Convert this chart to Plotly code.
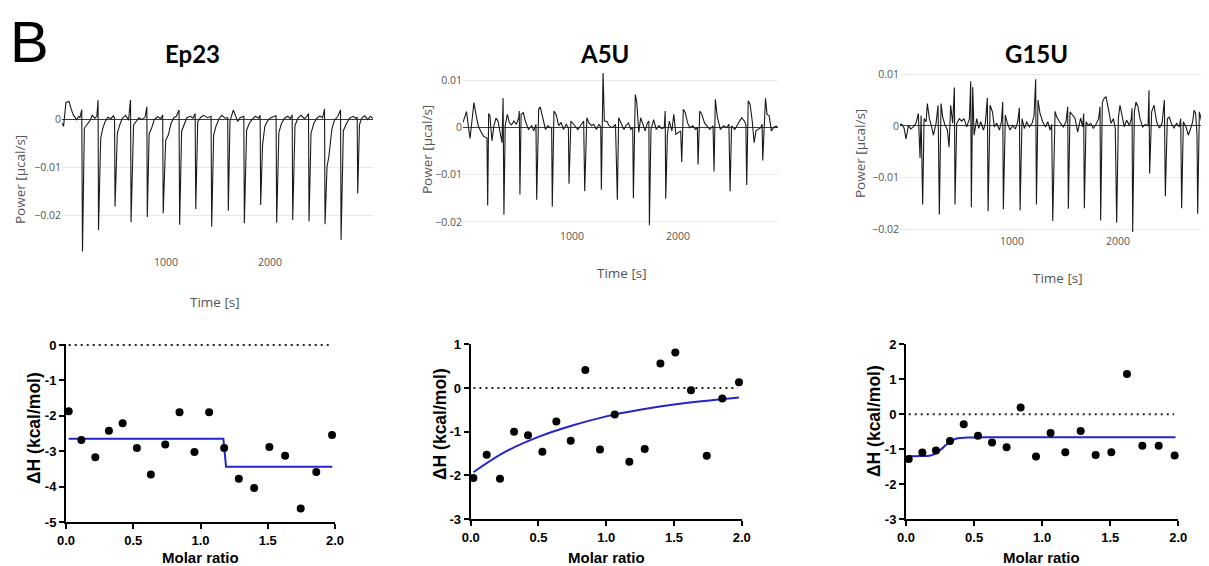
import plotly.graph_objects as go

# the page body adds an 8px margin, so the figure is sized to fill the rest of the window
OFF = 8
W, H = 1209 - OFF, 566 - OFF

# ---------------- Thermogram data (time [s], power [µcal/s]) ----------------
EP23_T = [0, 15, 38, 67, 90, 109, 141, 160, 173, 190, 197, 215, 237, 269, 290, 315, 335, 347, 351, 372, 392, 415, 440, 470, 495, 505, 510, 532, 555, 580, 612, 640, 659, 664, 688, 712, 740, 770, 800, 816, 820, 838, 861, 887, 920, 950, 968, 973, 997, 1022, 1048, 1075, 1100, 1125, 1131, 1150, 1176, 1200, 1235, 1260, 1280, 1286, 1305, 1330, 1360, 1400, 1433, 1439, 1458, 1480, 1510, 1535, 1570, 1593, 1599, 1615, 1647, 1668, 1690, 1712, 1740, 1748, 1753, 1775, 1800, 1830, 1860, 1890, 1905, 1910, 1928, 1950, 1975, 2000, 2030, 2058, 2064, 2085, 2110, 2140, 2170, 2195, 2213, 2218, 2240, 2270, 2300, 2330, 2355, 2370, 2375, 2394, 2420, 2450, 2480, 2505, 2524, 2529, 2548, 2566, 2595, 2620, 2650, 2678, 2683, 2705, 2735, 2765, 2800, 2825, 2838, 2843, 2860, 2880, 2910, 2940, 2965, 2990]
EP23_P = [-0.0008, -0.0015, 0.0035, 0.0037, 0.002, 0.0009, -0.0001, 0.0006, 0.0003, 0.002, -0.0276, -0.0019, -0.0012, -0.0003, 0.0008, 0.0002, 0.0006, 0.004, -0.0231, -0.004, -0.0019, -0.0005, 0.0004, 0.0001, 0.0007, 0.0002, -0.0182, -0.0029, -0.0012, 0.0002, 0.0008, -0.0002, 0.0042, -0.0215, -0.0012, -0.0005, 0.0003, -0.0001, 0.0005, 0.0026, -0.0204, -0.003, -0.0019, -0.0001, 0.0005, 0.0001, 0.0009, -0.0196, -0.0044, -0.0033, -0.0009, 0.0003, 0.0006, 0.0019, -0.022, -0.0025, -0.0009, 0.0003, 0.0006, 0.0002, 0.0012, -0.0187, -0.0005, 0.0003, 0.0008, 0.0003, 0.0006, -0.0224, -0.0033, -0.0015, 0.0001, 0.0008, 0.0002, 0.0003, -0.0191, -0.0004, 0.0019, 0.0008, -0.0005, 0.0003, 0.0005, 0.0006, -0.0217, -0.0023, -0.0009, 0.0, 0.0006, 0.0002, 0.0008, -0.0179, -0.0054, -0.0015, -0.0004, 0.0002, 0.0005, 0.0007, -0.0216, -0.0028, -0.0009, 0.0002, 0.0006, 0.0001, 0.0009, -0.021, -0.0013, 0.0003, 0.0008, 0.0001, 0.0006, 0.0012, -0.0213, -0.003, -0.0009, 0.0002, 0.0007, 0.0003, 0.0021, -0.0219, -0.0099, -0.0077, -0.002, -0.0002, 0.0005, 0.0019, -0.0252, -0.0024, -0.0009, 0.0002, 0.0006, 0.0002, 0.0004, -0.0155, -0.0012, 0.0002, 0.0007, -0.0001, 0.0006, 0.0001]

A5U_T = [-28, 5, 22, 38, 53, 75, 94, 116, 138, 164, 186, 198, 205, 214, 226, 245, 264, 283, 302, 321, 340, 350, 358, 370, 390, 410, 430, 452, 475, 497, 503, 509, 520, 541, 560, 590, 620, 640, 660, 667, 686, 700, 725, 750, 772, 795, 808, 814, 830, 850, 875, 897, 920, 945, 966, 972, 990, 1015, 1040, 1055, 1080, 1110, 1120, 1140, 1160, 1185, 1205, 1230, 1255, 1271, 1277, 1293, 1305, 1330, 1350, 1380, 1410, 1428, 1440, 1465, 1490, 1510, 1532, 1555, 1573, 1579, 1597, 1610, 1630, 1648, 1665, 1690, 1712, 1725, 1730, 1745, 1770, 1795, 1820, 1845, 1870, 1879, 1884, 1900, 1918, 1942, 1960, 1980, 2025, 2035, 2050, 2068, 2090, 2112, 2140, 2165, 2182, 2189, 2205, 2225, 2250, 2275, 2300, 2330, 2340, 2352, 2372, 2400, 2430, 2460, 2480, 2491, 2505, 2535, 2565, 2600, 2625, 2640, 2648, 2662, 2680, 2700, 2718, 2735, 2780, 2793, 2799, 2815, 2825, 2840, 2860, 2880, 2905, 2925, 2943]
A5U_P = [0.0011, 0.0034, 0.0004, -0.0023, 0.0007, 0.0053, 0.0028, 0.0004, -0.0007, -0.0018, -0.0021, -0.0022, -0.0165, 0.003, 0.0025, -0.0028, 0.0004, 0.002, 0.0014, -0.0007, -0.0032, 0.0063, -0.0185, 0.0004, 0.0028, 0.001, 0.0006, 0.0014, 0.0007, 0.0021, 0.0035, -0.0142, 0.0028, 0.0032, 0.0014, -0.0004, 0.0004, -0.0007, 0.0007, -0.0153, 0.0039, 0.0044, 0.0021, -0.0004, 0.0004, 0.0, 0.0, -0.0168, 0.0035, 0.0028, 0.0004, 0.0011, -0.0004, 0.0007, 0.0, -0.0119, 0.0014, 0.0007, 0.0001, -0.0004, 0.0004, 0.0014, -0.0135, 0.0021, 0.001, 0.0004, 0.0007, -0.0004, 0.0007, 0.0001, -0.0132, 0.0116, 0.0014, 0.0013, 0.0004, 0.0, 0.0007, -0.0153, 0.0021, 0.001, -0.0004, 0.0005, 0.001, -0.0004, 0.0, -0.015, 0.007, 0.0056, -0.001, 0.0021, 0.001, -0.0007, 0.001, 0.0014, -0.0207, -0.0004, 0.0017, -0.0004, 0.0004, -0.0002, 0.0, 0.0035, -0.0151, -0.0014, 0.0014, -0.0007, 0.0028, -0.0014, -0.0007, -0.0073, 0.0039, 0.0032, 0.001, 0.0, 0.0004, -0.0004, 0.0, -0.0078, 0.0035, 0.0028, 0.001, 0.0004, -0.0004, 0.0004, -0.0093, 0.006, 0.0021, -0.0004, 0.0004, 0.0, 0.0007, -0.0135, 0.0004, -0.0004, 0.0007, 0.0021, 0.0014, 0.0007, -0.0122, 0.0057, 0.0049, 0.0014, -0.0032, -0.0007, 0.0, 0.0007, -0.007, 0.0021, 0.0062, 0.0028, 0.0025, -0.0007, 0.0001, 0.0003, 0.0]

G15U_T = [-57, -40, -19, 0, 22, 44, 69, 94, 116, 132, 142, 157, 170, 189, 201, 220, 242, 258, 283, 302, 314, 330, 346, 368, 390, 406, 421, 440, 456, 462, 478, 503, 525, 547, 572, 598, 610, 616, 629, 642, 667, 686, 704, 730, 748, 767, 774, 793, 815, 833, 855, 881, 900, 912, 918, 937, 956, 981, 1006, 1032, 1054, 1069, 1076, 1094, 1116, 1138, 1164, 1189, 1208, 1223, 1230, 1245, 1264, 1289, 1315, 1337, 1359, 1374, 1384, 1406, 1422, 1447, 1484, 1509, 1525, 1531, 1547, 1572, 1594, 1619, 1647, 1666, 1676, 1682, 1698, 1720, 1742, 1767, 1792, 1817, 1830, 1836, 1852, 1871, 1886, 1908, 1934, 1956, 1974, 1987, 2003, 2018, 2040, 2059, 2081, 2107, 2125, 2132, 2138, 2154, 2169, 2188, 2207, 2232, 2257, 2283, 2292, 2298, 2317, 2339, 2364, 2390, 2415, 2437, 2446, 2465, 2484, 2506, 2528, 2553, 2578, 2591, 2600, 2616, 2641, 2663, 2685, 2704, 2717, 2732, 2745, 2751, 2767, 2789, 2811, 2836, 2858]
G15U_P = [0.0003, 0.0003, -0.0004, -0.0025, 0.0001, -0.0006, -0.0002, 0.0005, 0.0024, -0.0062, 0.002, -0.0152, 0.0014, 0.0008, 0.0043, 0.0014, -0.0002, -0.0018, 0.0005, 0.004, -0.0171, 0.0043, 0.0017, 0.0001, -0.0008, -0.0041, 0.004, 0.0005, 0.0074, -0.0152, 0.0005, 0.0014, 0.0009, 0.0014, -0.0002, 0.0014, 0.0086, -0.0157, 0.0075, -0.0018, 0.0014, -0.0005, 0.0008, -0.0008, 0.0005, 0.0054, -0.0165, 0.004, 0.0027, -0.0002, 0.0005, -0.0008, 0.0008, 0.0046, -0.0161, 0.0021, 0.0005, -0.0008, 0.0001, -0.0006, 0.0008, 0.0035, -0.0163, 0.0014, -0.0005, 0.0008, -0.0002, 0.0005, 0.002, 0.009, -0.0152, 0.005, 0.0024, 0.0008, -0.0002, 0.0008, -0.0008, 0.0003, -0.0184, 0.0028, 0.0017, 0.0008, -0.0002, 0.0008, 0.0037, -0.016, 0.0027, 0.0021, 0.0015, -0.0012, 0.0015, -0.0002, 0.0024, -0.0159, 0.0008, 0.0001, 0.0005, -0.0005, 0.0003, 0.0014, 0.0037, -0.0183, 0.0046, 0.0054, 0.0056, 0.0034, 0.0005, 0.0014, -0.0005, -0.0187, 0.0014, 0.004, 0.0014, -0.0002, 0.0011, 0.0001, 0.0014, 0.0034, -0.0205, 0.0027, 0.0046, 0.0037, 0.0014, -0.0002, 0.0003, 0.0, 0.0069, -0.0092, 0.0027, 0.004, 0.0008, -0.0004, 0.0005, 0.005, -0.0136, 0.0014, 0.0017, 0.0003, -0.0004, 0.0005, -0.0002, 0.0014, -0.0159, 0.0008, -0.0002, -0.0018, -0.0005, 0.0008, 0.003, 0.0024, -0.0018, -0.017, 0.0027, 0.0008, -0.0002, 0.0003, -0.0002]

# ---------------- Integrated heats (molar ratio, ΔH kcal/mol) ----------------
EP23_X = [0.02, 0.114, 0.218, 0.319, 0.421, 0.527, 0.631, 0.738, 0.844, 0.955, 1.064, 1.176, 1.285, 1.399, 1.512, 1.629, 1.745, 1.861, 1.978]
EP23_DH = [-1.87, -2.68, -3.17, -2.42, -2.21, -2.91, -3.66, -2.81, -1.90, -3.02, -1.90, -2.91, -3.78, -4.04, -2.88, -3.13, -4.62, -3.59, -2.54]
EP23_FIT_X = [0.02, 1.17, 1.19, 1.98]
EP23_FIT_Y = [-2.65, -2.65, -3.44, -3.44]

A5U_X = [0.02, 0.118, 0.216, 0.32, 0.423, 0.529, 0.632, 0.738, 0.846, 0.954, 1.063, 1.171, 1.284, 1.40, 1.51, 1.626, 1.742, 1.857, 1.98]
A5U_DH = [-2.06, -1.53, -2.08, -1.00, -1.08, -1.46, -0.77, -1.21, 0.41, -1.41, -0.61, -1.69, -1.40, 0.56, 0.81, -0.05, -1.55, -0.24, 0.13]
A5U_FIT_X = [0.02, 0.25, 0.5, 0.75, 1.0, 1.25, 1.5, 1.75, 1.98]
A5U_FIT_Y = [-1.93, -1.47, -1.12, -0.86, -0.65, -0.50, -0.38, -0.29, -0.22]

G15U_X = [0.02, 0.12, 0.22, 0.323, 0.424, 0.529, 0.632, 0.739, 0.842, 0.955, 1.062, 1.17, 1.283, 1.393, 1.508, 1.623, 1.736, 1.856, 1.973]
G15U_DH = [-1.28, -1.10, -1.04, -0.77, -0.29, -0.62, -0.81, -0.95, 0.19, -1.21, -0.54, -1.09, -0.48, -1.17, -1.09, 1.15, -0.90, -0.90, -1.18]
G15U_FIT_X = [0.02, 0.1, 0.18, 0.22, 0.26, 0.30, 0.34, 0.38, 0.45, 0.6, 1.0, 1.5, 1.98]
G15U_FIT_Y = [-1.20, -1.20, -1.18, -1.12, -1.00, -0.86, -0.75, -0.69, -0.67, -0.66, -0.66, -0.66, -0.66]

ZERO_X = [0.02, 1.97]
ZERO_Y = [0, 0]

TITLES = ["Ep23", "A5U", "G15U"]

# ---------------- layout helpers (window pixel -> paper fraction) ----------------
def px(x):
    return (x - OFF) / W

def py(y):
    return 1 - (y - OFF) / H

fig = go.Figure()

top_sets = [(EP23_T, EP23_P), (A5U_T, A5U_P), (G15U_T, G15U_P)]
for i, (t, p) in enumerate(top_sets):
    k = "" if i == 0 else str(i + 1)
    fig.add_trace(go.Scatter(x=t, y=p, mode="lines", line=dict(color="#1a1a1a", width=1.1),
                             xaxis="x" + k, yaxis="y" + k, showlegend=False, hoverinfo="skip"))

bot_sets = [(EP23_X, EP23_DH, EP23_FIT_X, EP23_FIT_Y, "linear"),
            (A5U_X, A5U_DH, A5U_FIT_X, A5U_FIT_Y, "spline"),
            (G15U_X, G15U_DH, G15U_FIT_X, G15U_FIT_Y, "spline")]
for i, (x, y, fx, fy, shape) in enumerate(bot_sets):
    k = str(i + 4)
    fig.add_trace(go.Scatter(x=ZERO_X, y=ZERO_Y, mode="lines",
                             line=dict(color="#222", width=2, dash="2px,4px"),
                             xaxis="x" + k, yaxis="y" + k, showlegend=False, hoverinfo="skip"))
    fig.add_trace(go.Scatter(x=fx, y=fy, mode="lines", line=dict(color="#2525cc", width=2, shape=shape),
                             xaxis="x" + k, yaxis="y" + k, showlegend=False, hoverinfo="skip"))
    fig.add_trace(go.Scatter(x=x, y=y, mode="markers", marker=dict(color="black", size=8),
                             cliponaxis=False,
                             xaxis="x" + k, yaxis="y" + k, showlegend=False, hoverinfo="skip"))

grey = "#555"
top_font = dict(family="Open Sans, sans-serif", size=10.5, color=grey)

def top_x(dom, rng):
    return dict(domain=[px(dom[0]), min(1.0, px(dom[1]))], range=rng, tickvals=[1000, 2000],
                showgrid=False, zeroline=False, showline=False, ticks="", automargin=False,
                tickfont=top_font)

def top_y(dom, rng, anchor, tv):
    return dict(domain=[py(dom[1]), py(dom[0])], range=rng, anchor=anchor, tickvals=tv,
                showgrid=True, gridcolor="#e9e9e9", gridwidth=1, automargin=False,
                zeroline=True, zerolinecolor="#3a3a3a", zerolinewidth=1.2,
                showline=False, ticks="", tickfont=top_font)

bold_font = dict(family="Liberation Sans, Arial, sans-serif", size=13, color="black", weight="bold")

def bot_x(dom):
    return dict(domain=[px(dom[0]), px(dom[1])], range=[0, 2], tickvals=[0, 0.5, 1.0, 1.5, 2.0],
                ticktext=["0.0", "0.5", "1.0", "1.5", "2.0"], automargin=False,
                showgrid=False, zeroline=False, showline=True, linecolor="black", linewidth=2,
                ticks="outside", ticklen=5, tickwidth=2, tickcolor="black", tickfont=bold_font)

def bot_y(dom, rng, anchor, tv):
    return dict(domain=[py(dom[1]), py(dom[0])], range=rng, anchor=anchor, tickvals=tv,
                ticktext=[str(v) for v in tv], automargin=False,
                showgrid=False, zeroline=False, showline=True, linecolor="black", linewidth=2,
                ticks="outside", ticklen=5, tickwidth=2, tickcolor="black", tickfont=bold_font)

fig.update_layout(
    template="none",
    width=W, height=H, margin=dict(l=0, r=0, t=0, b=0, autoexpand=False),
    paper_bgcolor="white", plot_bgcolor="white",
    xaxis=top_x((62, 373), [0, 2990]),
    yaxis=top_y((100, 254), [-0.0281, 0.004], "x", [0, -0.01, -0.02]),
    xaxis2=dict(top_x((463, 778), [-28, 2943]), anchor="y2"),
    yaxis2=top_y((72, 228), [-0.0213, 0.0118], "x2", [0.01, 0, -0.01, -0.02]),
    xaxis3=dict(top_x((900, 1209), [-57, 2858]), anchor="y3"),
    yaxis3=top_y((70, 233), [-0.0207, 0.0108], "x3", [0.01, 0, -0.01, -0.02]),
    xaxis4=dict(bot_x((66, 335)), anchor="y4"),
    yaxis4=bot_y((344, 522), [-5, 0.03], "x4", [-5, -4, -3, -2, -1, 0]),
    xaxis5=dict(bot_x((470.7, 741.7)), anchor="y5"),
    yaxis5=bot_y((344.3, 519), [-3, 1], "x5", [-3, -2, -1, 0, 1]),
    xaxis6=dict(bot_x((906, 1178.3)), anchor="y6"),
    yaxis6=bot_y((344.3, 519), [-3, 2], "x6", [-3, -2, -1, 0, 1, 2]),
)

ann = []
def add_text(text, x, y, font, angle=0, xanchor="center", yanchor="middle"):
    ann.append(dict(text=text, x=px(x), y=py(y), xref="paper", yref="paper",
                    xanchor=xanchor, yanchor=yanchor, showarrow=False,
                    font=font, textangle=angle, borderpad=0))

add_text("B", 9, 8, dict(family="Liberation Sans, Arial, sans-serif", size=58, color="black"),
         xanchor="left", yanchor="top")
title_font = dict(family="Lato, sans-serif", size=24, color="black")
for name, cx in zip(TITLES, [192.5, 604, 1036]):
    add_text("<b>" + name + "</b>", cx, 53, title_font)

axis_title_font = dict(family="Open Sans, sans-serif", size=13.5, color=grey)
for (x, y) in [(20, 180), (427, 150), (860, 154)]:
    add_text("Power [µcal/s]", x, y, axis_title_font, -90)
for (x, y) in [(215, 302), (622, 273), (1057.5, 278)]:
    add_text("Time [s]", x, y, axis_title_font)

bt_font = dict(family="Liberation Sans, Arial, sans-serif", size=15, color="black")
by_font = dict(family="Liberation Sans, Arial, sans-serif", size=17.5, color="black")
for x in [200.5, 606.5, 1041.7]:
    add_text("<b>Molar ratio</b>", x, 557, bt_font)
for (x, y) in [(34, 428), (440, 424), (874, 421)]:
    add_text("<b>ΔH (kcal/mol)</b>", x, y, by_font, -90)

fig.update_layout(annotations=ann)
fig.write_html("out.html")
